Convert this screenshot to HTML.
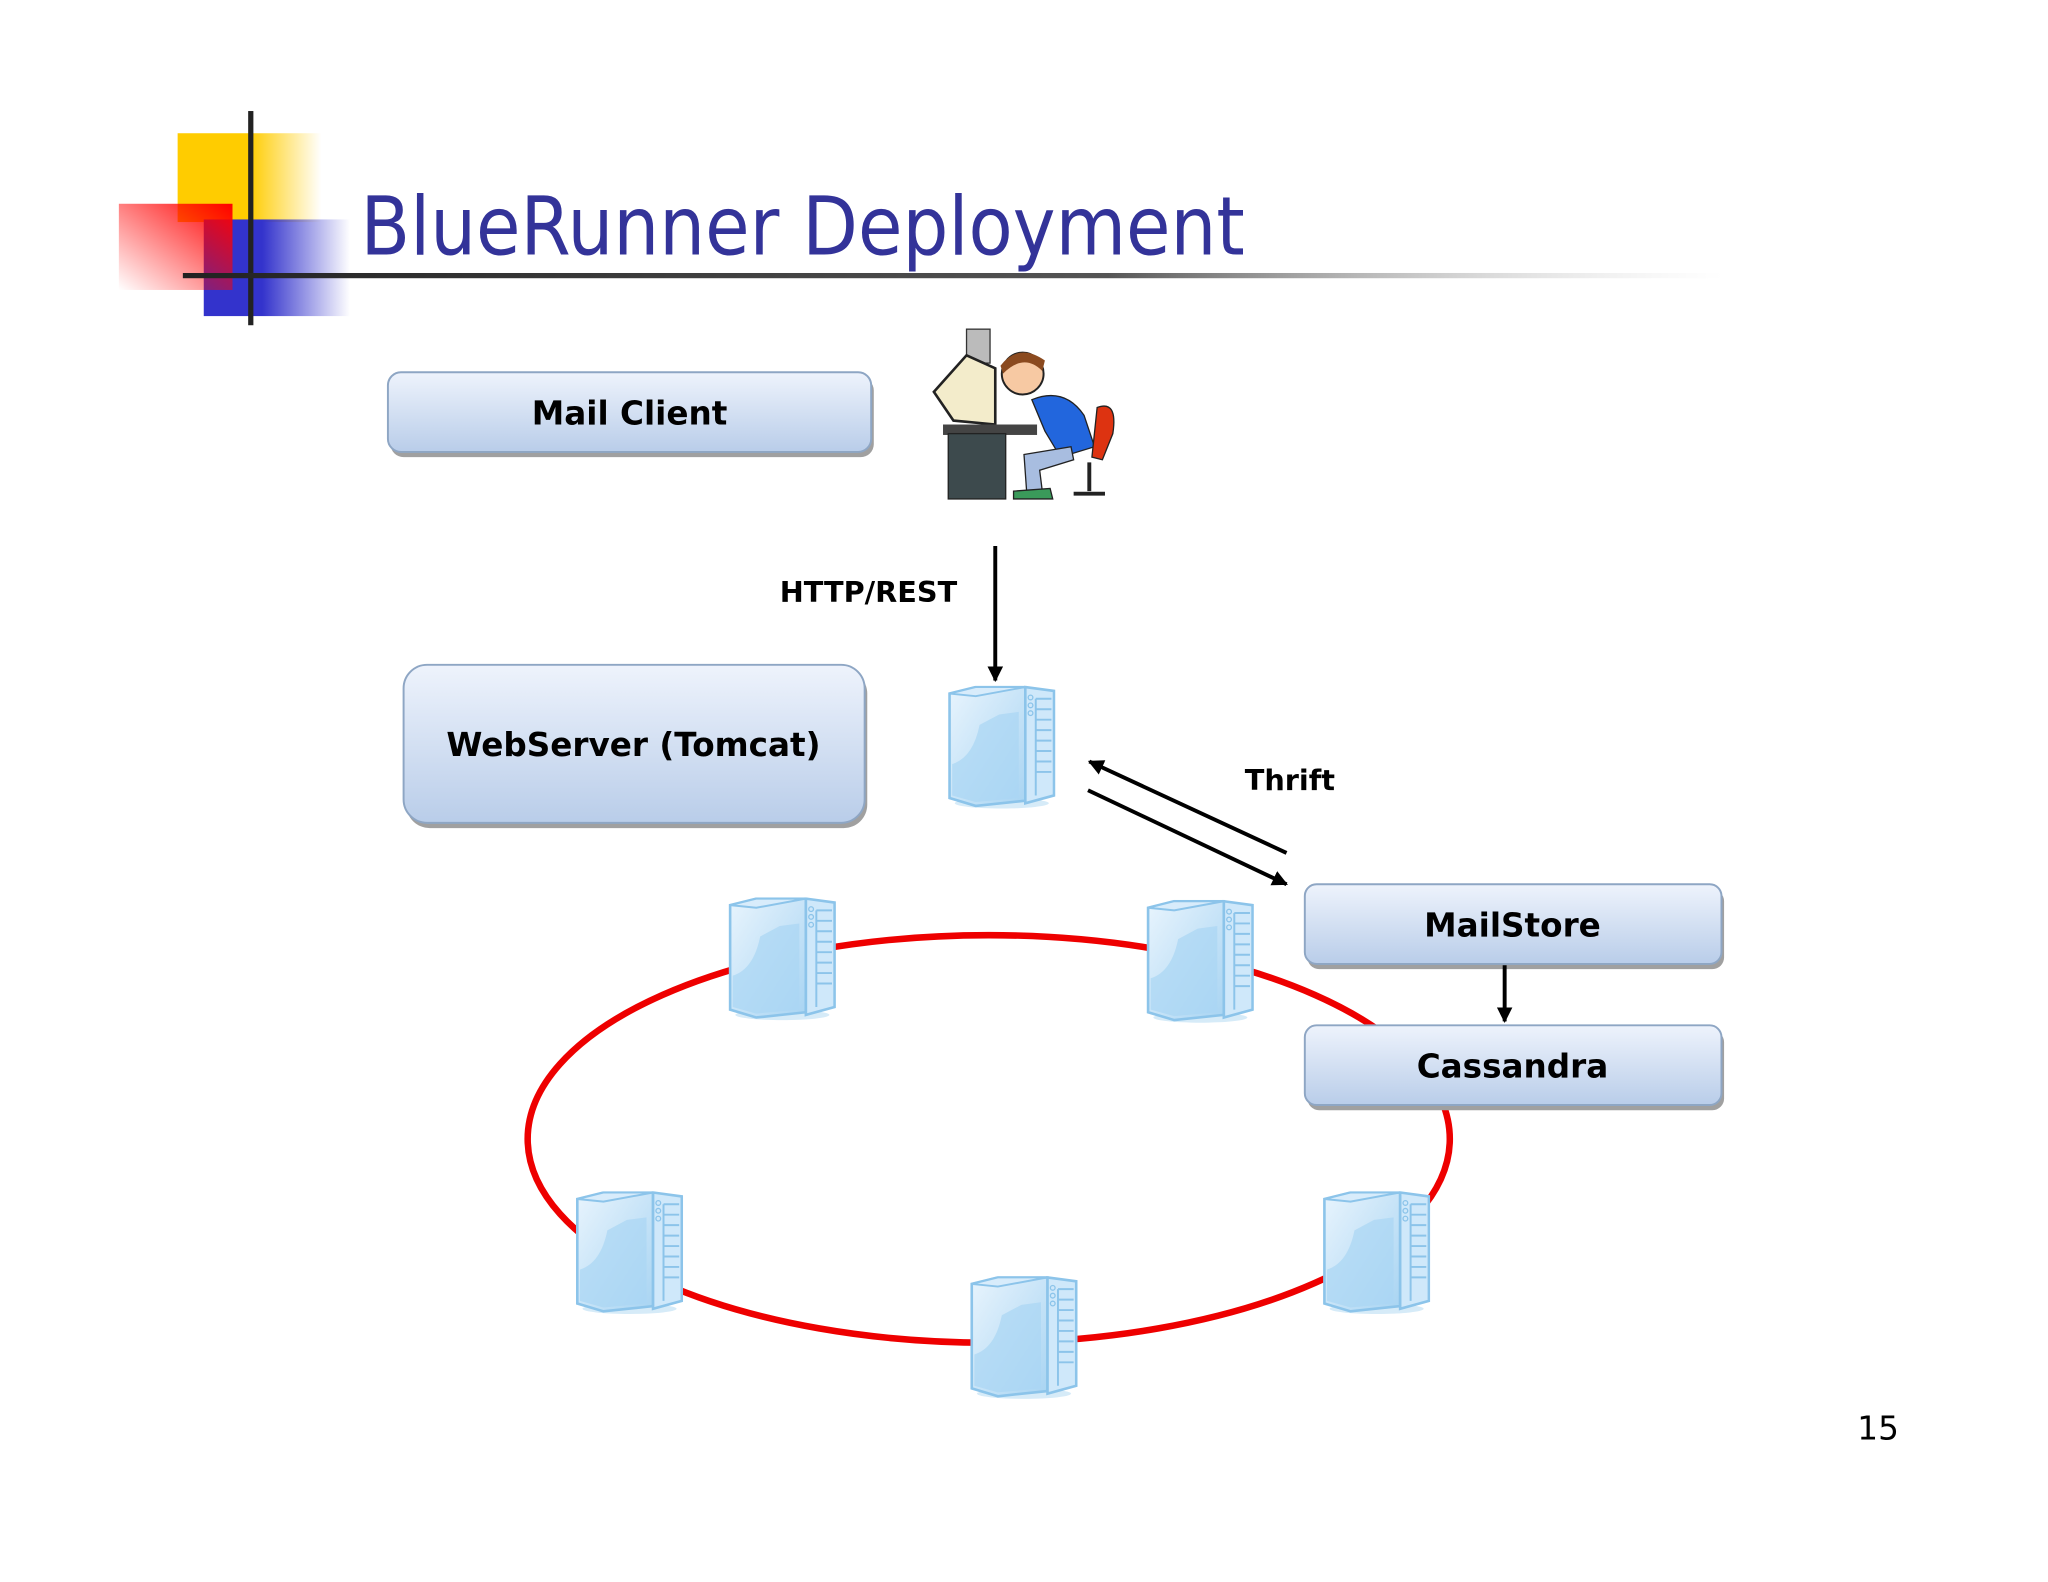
<!DOCTYPE html>
<html><head><meta charset="utf-8"><style>
html,body{margin:0;padding:0;background:#fff;}
svg{display:block}
text{font-family:"DejaVu Sans","Liberation Sans",sans-serif;}
</style></head><body>
<svg width="2048" height="1582" viewBox="0 0 1568 1211.2" xmlns="http://www.w3.org/2000/svg">
<defs>
<linearGradient id="yel" x1="0" x2="1" y1="0" y2="0"><stop offset="0.5" stop-color="#ffcc00"/><stop offset="1" stop-color="#ffcc00" stop-opacity="0"/></linearGradient>
<linearGradient id="blu" x1="0" x2="1" y1="0" y2="0"><stop offset="0.4" stop-color="#3333cc"/><stop offset="1" stop-color="#3333cc" stop-opacity="0"/></linearGradient>
<linearGradient id="red" x1="1" y1="0" x2="0" y2="1"><stop offset="0" stop-color="#ff0000"/><stop offset="1" stop-color="#ff0000" stop-opacity="0"/></linearGradient>
<linearGradient id="hl" x1="0" x2="1"><stop offset="0" stop-color="#222"/><stop offset="0.6" stop-color="#555"/><stop offset="1" stop-color="#ccc" stop-opacity="0"/></linearGradient>
<linearGradient id="box" x1="0" x2="0" y1="0" y2="1"><stop offset="0" stop-color="#eef3fc"/><stop offset="1" stop-color="#b9cde9"/></linearGradient>
<linearGradient id="srv" x1="0" x2="1" y1="0" y2="1"><stop offset="0" stop-color="#e8f4fd"/><stop offset="1" stop-color="#a8d4f2"/></linearGradient>
<marker id="ar" viewBox="0 0 10 10" refX="9" refY="5" markerWidth="4" markerHeight="4" orient="auto"><path d="M0,0L10,5L0,10z" fill="#000"/></marker>
<symbol id="server" viewBox="0 0 83 95">
<ellipse cx="42" cy="90" rx="36" ry="4" fill="#d6ebf8"/>
<path d="M2,6 L22,1 L60,1 L60,88 L22,92 L2,86 Z" fill="url(#srv)" stroke="#8cc4ea" stroke-width="2"/>
<path d="M4,60 Q20,55 25,30 L40,22 L55,20 L55,86 L22,89 L4,84 Z" fill="#a9d5f3" opacity="0.7"/>
<path d="M2,6 L22,1 L60,1 L22,8 Z" fill="#d8ecfb" stroke="#8cc4ea" stroke-width="1.5"/>
<path d="M60,1 L82,4 L82,84 L60,90 Z" fill="#cfe8fa" stroke="#8cc4ea" stroke-width="2"/>
<circle cx="64" cy="9" r="1.8" fill="none" stroke="#8cc4ea"/><circle cx="64" cy="15" r="1.8" fill="none" stroke="#8cc4ea"/><circle cx="64" cy="21" r="1.8" fill="none" stroke="#8cc4ea"/>
<g stroke="#8cc4ea" stroke-width="1.5"><line x1="68" y1="10" x2="80" y2="10"/><line x1="68" y1="18" x2="80" y2="18"/><line x1="68" y1="26" x2="80" y2="26"/><line x1="68" y1="34" x2="80" y2="34"/><line x1="68" y1="42" x2="80" y2="42"/><line x1="68" y1="50" x2="80" y2="50"/><line x1="68" y1="58" x2="80" y2="58"/><line x1="68" y1="66" x2="80" y2="66"/><line x1="68" y1="10" x2="68" y2="84"/></g>
</symbol>
</defs>

<!-- logo -->
<rect x="136" y="102" width="110" height="68" fill="url(#yel)"/>
<rect x="156" y="168" width="112" height="74" fill="url(#blu)"/>
<rect x="91" y="156" width="87" height="66" fill="url(#red)"/>
<rect x="190" y="85" width="4" height="164" fill="#222"/>
<rect x="140" y="209" width="1180" height="4" fill="url(#hl)"/>
<text x="276" y="195" font-size="62" fill="#333399" textLength="677" lengthAdjust="spacingAndGlyphs">BlueRunner Deployment</text>

<!-- ring (behind boxes/servers) -->
<ellipse cx="757" cy="872" rx="353" ry="156" fill="none" stroke="#ee0000" stroke-width="5"/>

<!-- boxes -->
<g stroke="#8ea6c4" stroke-width="1.5">
<rect x="299" y="289" width="370" height="61" rx="10" fill="#a0a0a0" stroke="none"/>
<rect x="297" y="285" width="370" height="61" rx="10" fill="url(#box)"/>
<rect x="311" y="513" width="353" height="121" rx="18" fill="#a0a0a0" stroke="none"/>
<rect x="309" y="509" width="353" height="121" rx="18" fill="url(#box)"/>
<rect x="1001" y="681" width="319" height="61" rx="9" fill="#a0a0a0" stroke="none"/>
<rect x="999" y="677" width="319" height="61" rx="9" fill="url(#box)"/>
<rect x="1001" y="789" width="319" height="61" rx="9" fill="#a0a0a0" stroke="none"/>
<rect x="999" y="785" width="319" height="61" rx="9" fill="url(#box)"/>
</g>
<g font-weight="bold" font-size="25" text-anchor="middle" fill="#000">
<text x="482" y="325">Mail Client</text>
<text x="485" y="579">WebServer (Tomcat)</text>
<text x="1158" y="717">MailStore</text>
<text x="1158" y="825">Cassandra</text>
</g>

<!-- servers -->
<use href="#server" x="725" y="525" width="83" height="95"/>
<use href="#server" x="557" y="687" width="83" height="95"/>
<use href="#server" x="877" y="689" width="83" height="95"/>
<use href="#server" x="440" y="912" width="83" height="95"/>
<use href="#server" x="742" y="977" width="83" height="95"/>
<use href="#server" x="1012" y="912" width="83" height="95"/>

<!-- arrows -->
<g stroke="#000" stroke-width="3" marker-end="url(#ar)">
<line x1="762" y1="418" x2="762" y2="521"/>
<line x1="985" y1="653" x2="834" y2="583"/>
<line x1="833" y1="605" x2="985" y2="677"/>
<line x1="1152" y1="739" x2="1152" y2="782"/>
</g>
<g font-weight="bold" font-size="22" fill="#000">
<text x="597" y="461">HTTP/REST</text>
<text x="953" y="605">Thrift</text>
</g>

<!-- person clipart (approx) -->
<g>
<rect x="740" y="252" width="18" height="26" fill="#bbb" stroke="#333"/>
<path d="M715,300 L740,272 L762,282 L762,325 L730,322 Z" fill="#f3eccb" stroke="#222" stroke-width="2"/>
<rect x="722" y="325" width="72" height="8" fill="#444"/>
<rect x="726" y="332" width="44" height="50" fill="#3d4a4d" stroke="#222"/>
<circle cx="783" cy="286" r="16" fill="#f7c9a3" stroke="#222" stroke-width="1.5"/>
<path d="M766,280 Q780,262 800,276 L798,284 Q784,270 768,286 Z" fill="#8b4a1f"/>
<path d="M790,306 Q815,296 830,318 L838,342 L812,350 L800,330 Z" fill="#2266dd" stroke="#222"/>
<path d="M840,312 Q856,306 852,332 L844,352 L836,350 Z" fill="#dd3311" stroke="#222"/>
<path d="M784,348 L820,342 L822,352 L796,360 L798,376 L786,376 Z" fill="#a8bde0" stroke="#222"/>
<path d="M776,376 L804,374 L806,382 L776,382 Z" fill="#3a9a5a" stroke="#222"/>
<line x1="834" y1="354" x2="834" y2="376" stroke="#222" stroke-width="3"/>
<line x1="822" y1="378" x2="846" y2="378" stroke="#222" stroke-width="3"/>
</g>

<text x="1422" y="1102" font-size="25" fill="#000" font-family="Liberation Sans">15</text>
</svg>
</body></html>
